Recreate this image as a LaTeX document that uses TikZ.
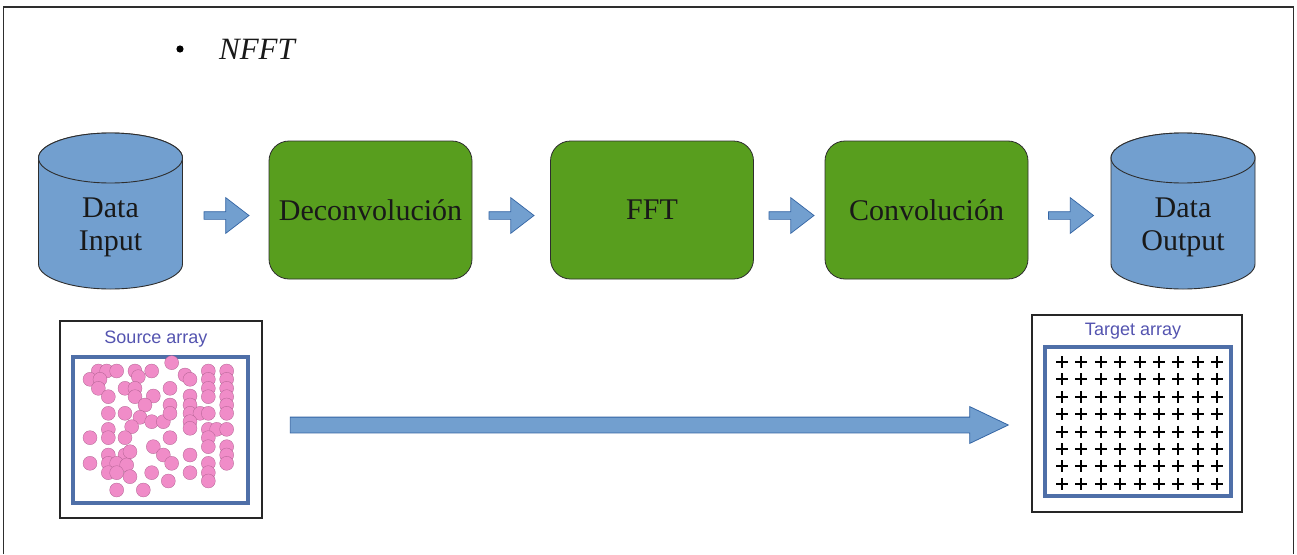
\documentclass[tikz,border=0pt]{standalone}
\usepackage{fontspec}
\setmainfont{Liberation Serif}
\setsansfont{Liberation Sans}
\usetikzlibrary{shapes.arrows}
\definecolor{cylblue}{HTML}{729FCF}
\definecolor{arrowedge}{HTML}{3465A4}
\definecolor{boxgreen}{HTML}{589E1E}
\definecolor{framegray}{HTML}{2E2E2E}
\definecolor{innerblue}{HTML}{4F6FA8}
\definecolor{titleblue}{HTML}{5454B0}
\definecolor{dotpink}{HTML}{F08CC8}
\definecolor{dotedge}{HTML}{B06090}
\tikzset{
  procbox/.style={draw=framegray, line width=0.8pt, fill=boxgreen, rounded corners=20pt,
    minimum width=203pt, minimum height=138pt, inner sep=0pt,
    font=\fontsize{30}{34}\selectfont, text=black!90},
  cyltext/.style={align=center, inner sep=0pt, font=\fontsize{30}{33}\selectfont, text=black!90},
  cylbody/.style={fill=cylblue, draw=framegray, line width=0.9pt},
  smallarrow/.style={single arrow, fill=cylblue, draw=arrowedge, line width=0.7pt,
    inner sep=3.5pt, single arrow head extend=14pt, single arrow tip angle=75,
    minimum height=45pt},
  bigarrow/.style={single arrow, fill=cylblue, draw=arrowedge, line width=0.8pt,
    inner sep=7.5pt, single arrow head extend=10.5pt, single arrow tip angle=51,
    minimum height=718pt},
  arrayframe/.style={draw=black!85, line width=1.4pt, inner sep=0pt},
  innerframe/.style={draw=innerblue, line width=3.2pt, inner sep=0pt},
  arraytitle/.style={font=\sffamily\fontsize{18}{20}\selectfont, text=titleblue, inner sep=0pt},
  pinkdot/.style={fill=dotpink, draw=dotedge, line width=0.3pt},
  plusmark/.style={draw=black, line width=2pt}
}
\begin{document}
\begin{tikzpicture}[x=1pt, y=-1pt]
\useasboundingbox (0,0) rectangle (1297,554);
\fill[white] (0,0) rectangle (1297,554);
% outer open frame
\draw[framegray, line width=1.5pt] (3.5,554) -- (3.5,7) -- (1293.5,7) -- (1293.5,554);

% title
\fill[black] (180,49) circle[radius=3.6];
\node[font=\itshape\fontsize{31}{34}\selectfont, inner sep=0pt, text=black!90] (title) at (257,49) {NFFT};

% cylinders
\foreach \cx/\nm/\txt in {110.5/din/{Data\\Input}, 1183/dout/{Data\\Output}}{
  \draw[cylbody] (\cx-72,158) -- (\cx-72,264) arc[start angle=180, end angle=0, x radius=72, y radius=25]
     -- (\cx+72,158) arc[start angle=0, end angle=-180, x radius=72, y radius=25] -- cycle;
  \draw[cylbody] (\cx,158) ellipse[x radius=72, y radius=25];
  \node[cyltext] (\nm) at (\cx,227) {\txt};
}

% process boxes
\node[procbox] (deconv) at (370.5,210) {Deconvolución};
\node[procbox] (fft) at (652,210) {FFT};
\node[procbox] (conv) at (926.5,210) {Convolución};

% small block arrows between stages
\node[smallarrow] (a1) at (224,215.5) {};
\node[smallarrow] (a2) at (509,215.5) {};
\node[smallarrow] (a3) at (789,215.5) {};
\node[smallarrow] (a4) at (1068.5,215.5) {};

% source array
\node[arrayframe, minimum width=202pt, minimum height=197pt] (src) at (161,419.5) {};
\node[innerframe, minimum width=175pt, minimum height=146pt] (srcin) at (160.5,430) {};
\node[arraytitle] (srct) at (156,339) {Source array};
\begin{scope}[shift={(50,310)}, scale=1/3]
\foreach \p in {(365,158),
(145,183),(170,183),(200,183),(255,183),(305,183),(405,195),(475,183),(530,183),
(120,208),(150,208),(265,200),(420,208),(475,208),(530,208),
(145,235),(225,235),(255,235),(360,235),(475,235),(530,235),
(175,260),(255,260),(310,258),(420,258),(475,260),(530,260),
(285,285),(360,285),(420,285),(530,285),
(175,310),(225,310),(270,322),(305,335),(340,335),(360,310),(420,310),(450,310),(475,310),(530,310),
(420,335),(420,355),
(175,358),(245,350),(475,358),(500,358),(530,358),
(120,383),(175,383),(225,383),(360,383),(475,383),
(310,410),(475,410),(530,410),
(175,435),(225,435),(240,425),(340,435),(420,435),(530,435),
(120,460),(175,460),(200,460),(230,465),(365,460),(475,460),(530,460),
(175,488),(200,488),(240,500),(305,488),(420,488),(475,488),
(355,513),(475,513),
(200,540),(280,540)}
  \draw[pinkdot] \p circle[radius=21];
\end{scope}

% target array
\node[arrayframe, minimum width=210pt, minimum height=197pt] (tgt) at (1137,413.5) {};
\node[innerframe, minimum width=186pt, minimum height=149pt] (tgtin) at (1138,421.5) {};
\node[arraytitle] (tgtt) at (1133,331) {Target array};
\foreach \i in {0,...,8}{
  \foreach \j in {0,...,7}{
    \draw[plusmark] ({1062+19.4*\i-6},{362+17.4*\j}) -- ({1062+19.4*\i+6},{362+17.4*\j});
    \draw[plusmark] ({1062+19.4*\i},{362+17.4*\j-6}) -- ({1062+19.4*\i},{362+17.4*\j+6});
  }
}

% big arrow from source to target
\node[bigarrow] (big) at (641,425) {};
\end{tikzpicture}
\end{document}
